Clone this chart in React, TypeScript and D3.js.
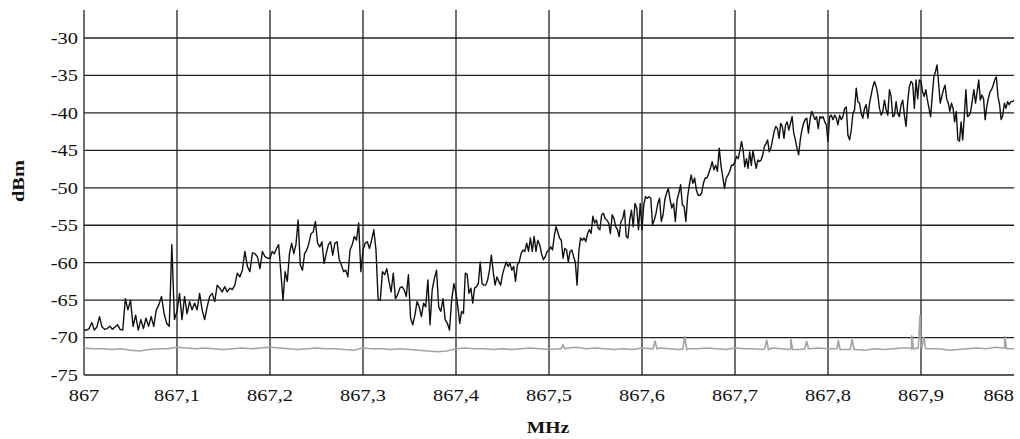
import React from 'react';
import * as d3 from 'd3';

// frequency axis (MHz)
const freqTicks = [867, 867.1, 867.2, 867.3, 867.4, 867.5, 867.6, 867.7, 867.8, 867.9, 868];
const freqLabels = ['867', '867,1', '867,2', '867,3', '867,4', '867,5', '867,6', '867,7', '867,8', '867,9', '868'];
const levelTicks = [-30, -35, -40, -45, -50, -55, -60, -65, -70, -75];

// measured sweep, one array for each 0.1 MHz band (dBm)
const sweep0 = [-69.0, -69.0, -68.8, -68.0, -69.0, -68.6, -67.2, -68.6, -68.9, -68.8, -68.5, -68.9, -68.6, -68.3, -68.9, -69.0, -64.8, -66.3, -65.0, -68.5, -67.0, -69.0, -67.6, -68.8, -67.4, -68.5, -67.2, -68.5, -66.3, -65.6, -64.5, -66.8, -68.1, -68.5, -57.6, -67.6];
const sweep1 = [-66.5, -64.1, -67.6, -64.5, -66.8, -65.2, -66.3, -65.4, -66.3, -64.1, -66.3, -67.6, -65.9, -64.5, -64.1, -65.2, -63.0, -63.4, -63.9, -63.2, -63.9, -63.4, -63.6, -63.0, -61.4, -61.9, -61.0, -58.5, -60.5, -61.2, -58.7, -58.8, -59.2, -60.8, -58.5, -59.2, -59.4];
const sweep2 = [-59.4, -58.5, -58.8, -58.1, -57.6, -61.2, -65.0, -61.2, -62.5, -58.8, -57.4, -58.8, -57.6, -54.3, -60.3, -61.0, -58.8, -58.3, -57.4, -56.1, -55.9, -54.5, -57.4, -57.9, -57.2, -60.1, -58.8, -57.6, -57.2, -59.0, -57.4, -57.2, -59.6, -60.3, -61.2, -61.0, -61.9, -58.3, -57.6, -56.5, -57.0, -54.7, -61.2];
const sweep3 = [-58.3, -57.4, -57.2, -58.1, -57.0, -55.6, -58.3, -65.0, -65.0, -61.2, -61.6, -60.8, -62.5, -63.9, -61.4, -64.8, -64.3, -63.4, -63.2, -63.6, -64.5, -61.6, -67.4, -68.3, -67.0, -65.2, -65.9, -67.2, -65.4, -65.9, -62.3, -68.3, -63.6, -62.1, -61.0, -65.9, -66.5, -64.8, -67.6, -68.1, -69.0, -65.0, -62.8];
const sweep4 = [-64.1, -65.9, -68.1, -66.5, -66.8, -61.4, -61.6, -64.1, -63.4, -65.4, -63.4, -63.2, -62.8, -59.9, -62.8, -63.0, -63.0, -62.3, -61.0, -59.0, -61.2, -63.0, -61.9, -62.5, -63.0, -61.6, -60.7, -59.9, -60.5, -60.1, -61.0, -60.5, -62.5, -60.3, -59.9, -58.8, -58.3, -58.5, -57.4, -58.5, -56.7, -58.5, -56.5, -58.5, -57.0, -57.6, -58.8, -59.6, -59.2, -58.5];
const sweep5 = [-58.3, -57.9, -58.3, -56.5, -55.2, -55.9, -56.7, -57.0, -59.4, -58.1, -58.3, -59.9, -58.5, -58.3, -59.2, -59.9, -63.0, -58.5, -56.7, -57.0, -56.7, -57.2, -56.1, -55.6, -56.1, -53.8, -54.7, -54.3, -55.4, -55.6, -53.6, -53.4, -54.1, -54.3, -54.7, -56.1, -53.6, -54.1, -55.2, -55.6, -56.5, -54.5, -54.1, -53.0, -56.5, -56.7, -54.3, -53.0, -55.2, -52.1, -52.7, -55.6, -52.1];
const sweep6 = [-55.6, -52.3, -51.2, -51.4, -51.2, -51.4, -54.9, -54.3, -53.4, -52.1, -51.4, -54.5, -53.6, -51.6, -50.7, -50.1, -51.6, -52.7, -52.1, -54.5, -51.6, -50.7, -49.6, -52.3, -52.5, -54.5, -51.2, -49.6, -48.3, -49.4, -48.7, -50.3, -51.0, -51.0, -50.7, -49.4, -48.7, -48.7, -48.1, -47.4, -46.5, -47.6, -47.0, -47.8, -44.7, -47.0, -48.5, -50.1, -48.7, -48.3, -47.8, -47.0, -47.0];
const sweep7 = [-46.5, -45.8, -46.1, -45.0, -43.8, -45.0, -47.2, -46.1, -47.4, -45.2, -47.0, -45.0, -46.3, -47.4, -46.3, -46.5, -46.3, -45.6, -44.5, -44.1, -43.6, -45.2, -44.7, -43.6, -42.5, -41.8, -42.1, -43.4, -41.4, -41.8, -43.4, -41.6, -41.2, -42.3, -41.4, -40.5, -42.7, -43.6, -44.7, -45.6, -43.6, -42.3, -41.4, -40.9, -40.7, -42.7, -40.9, -39.8, -40.3, -40.9, -40.5, -42.1, -40.5, -40.7, -40.5, -41.2, -41.6];
const sweep8 = [-43.8, -40.5, -40.3, -40.9, -40.3, -40.7, -41.6, -40.3, -40.9, -40.5, -39.4, -39.2, -43.0, -43.6, -42.3, -40.1, -39.6, -36.7, -38.5, -38.7, -40.1, -40.7, -39.4, -38.9, -40.7, -38.7, -37.6, -36.5, -35.8, -36.5, -37.6, -39.4, -40.3, -39.8, -38.3, -39.6, -40.3, -36.9, -37.8, -40.5, -40.3, -38.5, -40.1, -40.5, -38.9, -38.3, -40.3, -41.8, -38.5, -36.5, -35.8, -36.1, -39.4, -35.6, -38.1, -35.6];
const sweep9 = [-35.8, -37.2, -37.8, -36.9, -38.3, -39.4, -40.5, -37.8, -35.2, -34.5, -33.6, -36.1, -38.7, -37.8, -36.9, -36.3, -38.1, -38.7, -39.8, -38.7, -39.4, -41.2, -39.8, -43.6, -43.8, -41.2, -43.6, -40.5, -36.9, -40.5, -40.3, -39.8, -38.3, -36.9, -38.7, -37.2, -35.6, -38.3, -37.6, -38.1, -40.9, -39.2, -38.1, -37.2, -36.9, -36.3, -35.6, -35.2, -37.8, -38.9, -40.9, -40.3, -38.7, -39.4, -38.5, -38.9, -38.5, -38.5, -38.3];
const sweepBands = [sweep0, sweep1, sweep2, sweep3, sweep4, sweep5, sweep6, sweep7, sweep8, sweep9];

// noise floor every 0.01 MHz (dBm) plus the narrow spikes on it
const noiseFloor = [
  -71.4, -71.5, -71.5, -71.6, -71.5, -71.7, -71.8, -71.6, -71.5, -71.5,
  -71.3, -71.4, -71.5, -71.4, -71.5, -71.6, -71.5, -71.4, -71.5, -71.4,
  -71.3, -71.4, -71.5, -71.6, -71.5, -71.4, -71.5, -71.5, -71.6, -71.7,
  -71.4, -71.5, -71.5, -71.6, -71.5, -71.6, -71.7, -71.8, -71.9, -71.8,
  -71.5, -71.4, -71.5, -71.5, -71.6, -71.5, -71.6, -71.5, -71.4, -71.5,
  -71.6, -71.5, -71.4, -71.3, -71.5, -71.4, -71.5, -71.6, -71.5, -71.6,
  -71.4, -71.5, -71.4, -71.5, -71.6, -71.5, -71.5, -71.4, -71.5, -71.6,
  -71.4, -71.5, -71.5, -71.6, -71.4, -71.5, -71.5, -71.6, -71.5, -71.4,
  -71.5, -71.4, -71.6, -71.6, -71.7, -71.5, -71.6, -71.5, -71.4, -71.5,
  -71.3, -71.5, -71.5, -71.7, -71.6, -71.5, -71.4, -71.5, -71.3, -71.4, -71.5,
];
const noiseSpikes: [number, number][] = [
  [867.513, -71.5], [867.515, -71.0], [867.517, -71.5],
  [867.612, -71.5], [867.614, -70.4], [867.616, -71.5],
  [867.644, -71.5], [867.646, -69.8], [867.648, -71.6],
  [867.732, -71.5], [867.734, -70.3], [867.736, -71.6],
  [867.758, -71.6], [867.76, -70.2], [867.762, -71.6],
  [867.775, -71.5], [867.777, -70.5], [867.779, -71.5],
  [867.809, -71.5], [867.811, -70.3], [867.813, -71.6],
  [867.824, -71.6], [867.826, -70.2], [867.828, -71.6],
  [867.888, -71.4], [867.89, -69.7], [867.892, -71.5],
  [867.897, -71.4], [867.899, -67.0], [867.901, -71.4], [867.903, -69.9], [867.905, -71.5],
  [867.988, -71.4], [867.99, -69.8], [867.992, -71.5],
];

const W = 1020;
const H = 439;
const left = 84;
const right = 1014;
const top = 10;
const bottom = 375;

const x = d3.scaleLinear().domain([867, 868]).range([left, right]);
const y = d3.scaleLinear().domain([-75, -26.26]).range([bottom, top]);

const tracePoints: [number, number][] = sweepBands.flatMap((vals, b) => {
  const n = b === sweepBands.length - 1 ? vals.length - 1 : vals.length;
  return vals.map((v, i) => [freqTicks[b] + (0.1 * i) / n, v] as [number, number]);
});

const noisePoints: [number, number][] = noiseFloor
  .map((v, i) => [867 + i * 0.01, v] as [number, number])
  .concat(noiseSpikes)
  .sort((a, b) => a[0] - b[0]);

const line = d3
  .line<[number, number]>()
  .x((d) => x(d[0]))
  .y((d) => y(d[1]));

const font = "'Liberation Serif', 'Times New Roman', Times, serif";
const grid = '#222';

export default function App() {
  return (
    <svg
      width={W}
      height={H}
      style={{ position: 'absolute', left: 0, top: 0, background: '#fff', fontFamily: font }}
    >
      {levelTicks.map((t) => (
        <line key={'h' + t} x1={left} x2={right} y1={y(t)} y2={y(t)} stroke={grid} strokeWidth={1.3} />
      ))}
      {freqTicks.slice(0, -1).map((t) => (
        <line key={'v' + t} x1={x(t)} x2={x(t)} y1={top} y2={bottom} stroke={grid} strokeWidth={1.3} />
      ))}

      <path d={line(noisePoints) || ''} fill="none" stroke="#a3a3a3" strokeWidth={1.6} />
      <path d={line(tracePoints) || ''} fill="none" stroke="#111" strokeWidth={1.4} strokeLinejoin="round" />

      {levelTicks.map((t) => (
        <text
          key={'yl' + t}
          transform={`translate(78,${y(t)}) scale(1.2,1)`}
          textAnchor="end"
          dominantBaseline="central"
          fontSize={17}
          fill="#111"
        >
          {String(t)}
        </text>
      ))}
      {freqTicks.map((t, i) => {
        const last = i === freqTicks.length - 1;
        return (
          <text
            key={'xl' + t}
            transform={`translate(${last ? right : x(t)},401) scale(1.2,1)`}
            textAnchor={last ? 'end' : 'middle'}
            fontSize={17}
            fill="#111"
          >
            {freqLabels[i]}
          </text>
        );
      })}

      <text
        transform={`translate(${(left + right) / 2 - 1},433) scale(1.15,1)`}
        textAnchor="middle"
        fontSize={17}
        fontWeight="bold"
        fill="#111"
      >
        MHz
      </text>
      <text
        transform="translate(24,181) rotate(-90) scale(1.2,1)"
        textAnchor="middle"
        fontSize={17}
        fontWeight="bold"
        fill="#111"
      >
        dBm
      </text>
    </svg>
  );
}
